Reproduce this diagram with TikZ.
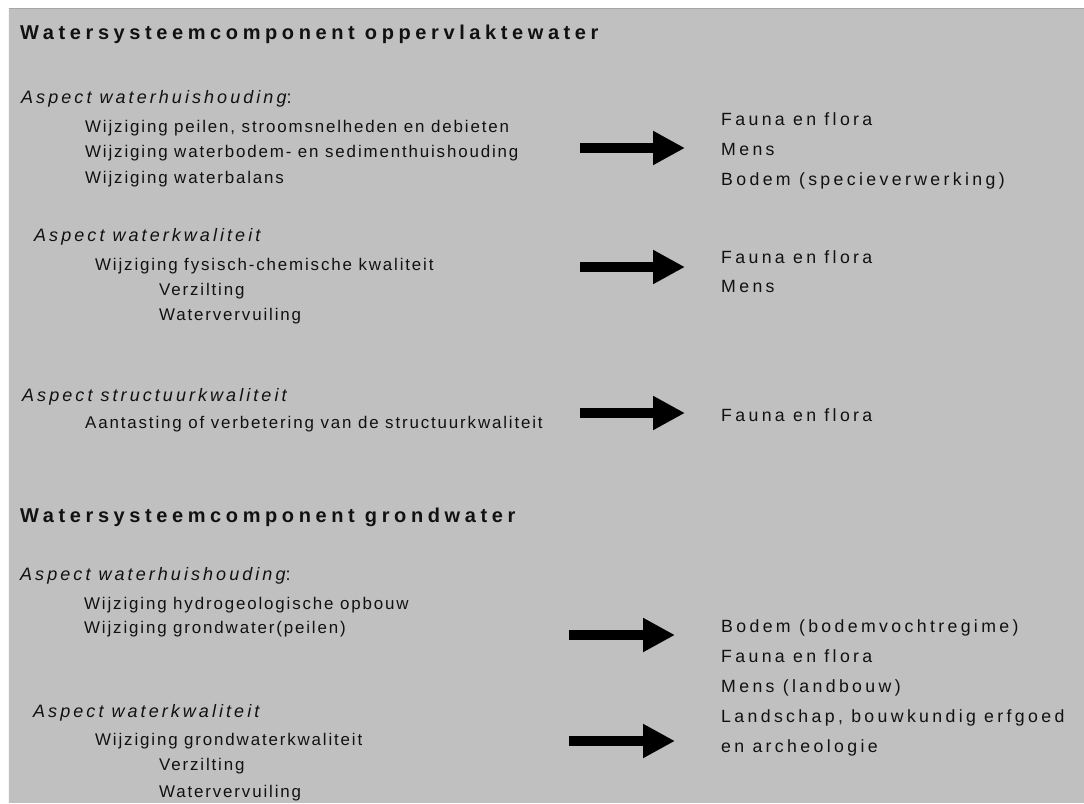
\documentclass[tikz,border=0pt]{standalone}
\usepackage{fontspec}
\usepackage{xcolor}
\usepackage{tikz}
\usetikzlibrary{arrows.meta}
\setmainfont{Liberation Sans}
\newfontfamily\headfont[LetterSpace=23]{Liberation Sans Bold}
\newfontfamily\aspectfont[LetterSpace=17]{Liberation Sans Italic}
\newfontfamily\aspectup[LetterSpace=17]{Liberation Sans}
\newfontfamily\itemfont[LetterSpace=11]{Liberation Sans}
\newfontfamily\effectfont[LetterSpace=19]{Liberation Sans}
\definecolor{PanelGray}{HTML}{C0C0C0}
\definecolor{EdgeGray}{HTML}{A6A6A6}
\definecolor{InkBlack}{HTML}{111111}

\begin{document}
\begin{tikzpicture}[x=1pt,y=-1pt,
  every node/.style={inner sep=0pt,anchor=base west,text=InkBlack},
  head/.style={font=\headfont\fontsize{20}{24}\selectfont},
  aspect/.style={font=\aspectfont\fontsize{18}{22}\selectfont},
  line/.style={font=\itemfont\fontsize{16.9}{20}\selectfont},
  effect/.style={font=\effectfont\fontsize{17.7}{21}\selectfont},
  bigarrow/.style={line width=10pt,draw=black,-{Triangle[length=32pt,width=32pt]}}]
\useasboundingbox (0,0) rectangle (1084,803);
\fill[white] (0,0) rectangle (1084,803);
\fill[PanelGray] (8,8) rectangle (1084,803);
\draw[EdgeGray,line width=1.5pt] (8,8.5) -- (1084,8.5);
\draw[white!85!PanelGray,line width=1pt] (8.5,8) -- (8.5,803);

% watersysteem oppervlaktewater
\node[head] (h1) at (20,39) {Watersysteemcomponent oppervlaktewater};

\node[aspect] (wh1) at (21,103) {Aspect waterhuishouding{\aspectup:}};
\node[line] (wh1a) at (85,132) {Wijziging peilen, stroomsnelheden en debieten};
\node[line] (wh1b) at (85,157) {Wijziging waterbodem- en sedimenthuishouding};
\node[line] (wh1c) at (85,183) {Wijziging waterbalans};
\node[effect] (ef1a) at (721,125) {Fauna en flora};
\node[effect] (ef1b) at (721,155) {Mens};
\node[effect] (ef1c) at (721,185) {Bodem (specieverwerking)};

\node[aspect] (wk1) at (34,241) {Aspect waterkwaliteit};
\node[line] (wk1a) at (95,270) {Wijziging fysisch-chemische kwaliteit};
\node[line] (wk1b) at (159,295) {Verzilting};
\node[line] (wk1c) at (159,320) {Watervervuiling};
\node[effect] (ef2a) at (721,263) {Fauna en flora};
\node[effect] (ef2b) at (721,292) {Mens};

\node[aspect] (sk1) at (22,401) {Aspect structuurkwaliteit};
\node[line] (sk1a) at (85,428) {Aantasting of verbetering van de structuurkwaliteit};
\node[effect] (ef3a) at (721,421) {Fauna en flora};

% watersysteem grondwater
\node[head] (h2) at (20,522) {Watersysteemcomponent grondwater};

\node[aspect] (wh2) at (20,580) {Aspect waterhuishouding{\aspectup:}};
\node[line] (wh2a) at (84,609) {Wijziging hydrogeologische opbouw};
\node[line] (wh2b) at (84,633) {Wijziging grondwater(peilen)};

\node[aspect] (wk2) at (33,717) {Aspect waterkwaliteit};
\node[line] (wk2a) at (95,745) {Wijziging grondwaterkwaliteit};
\node[line] (wk2b) at (159,770) {Verzilting};
\node[line] (wk2c) at (159,797) {Watervervuiling};

\node[effect] (ef4a) at (721,632) {Bodem (bodemvochtregime)};
\node[effect] (ef4b) at (721,662) {Fauna en flora};
\node[effect] (ef4c) at (721,692) {Mens (landbouw)};
\node[effect] (ef4d) at (721,722) {Landschap, bouwkundig erfgoed};
\node[effect] (ef4e) at (721,752) {en archeologie};

% pijlen
\coordinate (p1s) at (580,148); \coordinate (p1e) at (685,148);
\coordinate (p2s) at (580,267); \coordinate (p2e) at (685,267);
\coordinate (p3s) at (580,413); \coordinate (p3e) at (685,413);
\coordinate (p4s) at (569,635); \coordinate (p4e) at (675,635);
\coordinate (p5s) at (569,741); \coordinate (p5e) at (675,741);
\draw[bigarrow] (p1s) -- (p1e);
\draw[bigarrow] (p2s) -- (p2e);
\draw[bigarrow] (p3s) -- (p3e);
\draw[bigarrow] (p4s) -- (p4e);
\draw[bigarrow] (p5s) -- (p5e);
\end{tikzpicture}
\end{document}
